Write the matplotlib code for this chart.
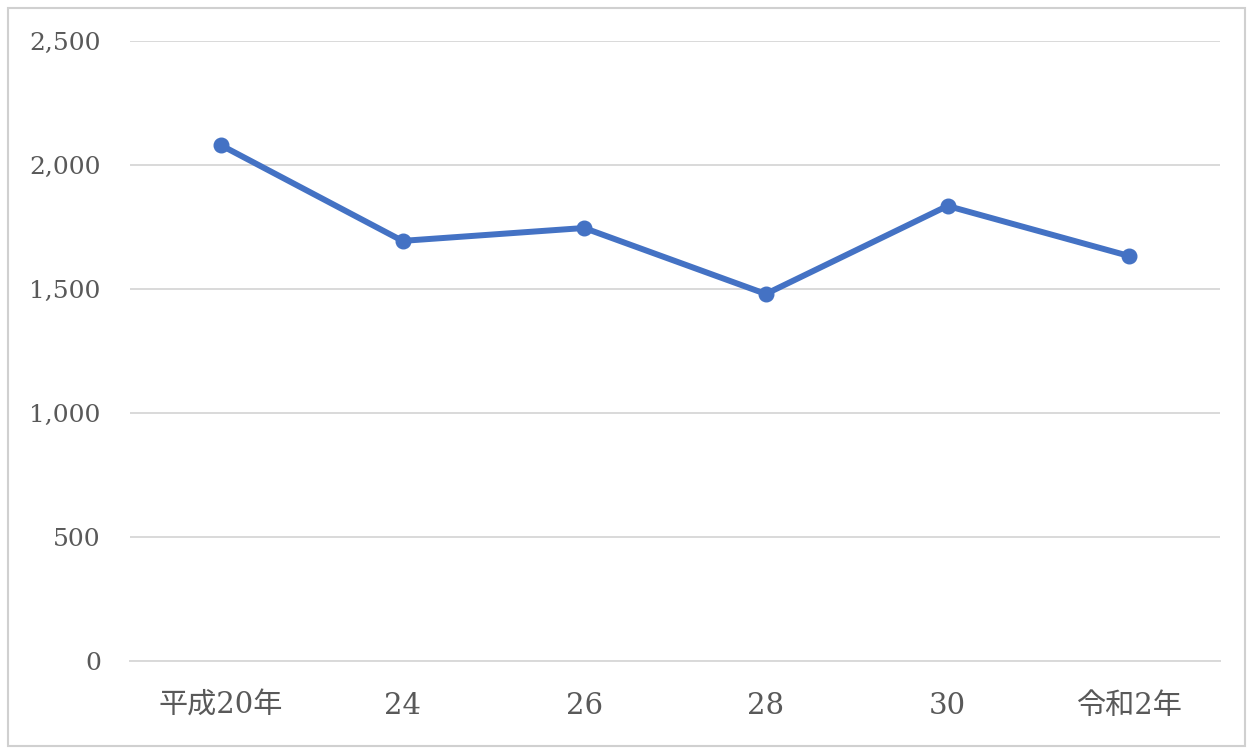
import matplotlib
matplotlib.use("Agg")
import matplotlib.pyplot as plt
from matplotlib.patches import Rectangle

# data
years = ["平成20年", "24", "26", "28", "30", "令和2年"]
counts = [2080, 1694, 1746, 1480, 1835, 1633]
yticks = [0, 500, 1000, 1500, 2000, 2500]

plt.rcParams['font.family'] = ['DejaVu Serif', 'Noto Sans CJK JP']

fig = plt.figure(figsize=(12.53, 7.51), dpi=100)
ax = fig.add_axes([130 / 1253, 1 - 661 / 751, (1220 - 130) / 1253, (661 - 41) / 751])

x = list(range(len(years)))
ax.plot(x, counts, color="#4472C4", linewidth=4.3, marker="o", markersize=10.5,
        solid_capstyle="round", zorder=3)

ax.set_xlim(-0.5, len(years) - 0.5)
ax.set_ylim(0, 2500)
ax.set_yticks(yticks)
ax.set_yticklabels(["{:,}".format(v) for v in yticks])
ax.set_xticks(x)
ax.set_xticklabels(years)
ax.grid(axis="y", color="#D9D9D9", linewidth=1.4)
ax.set_axisbelow(True)
for s in ["top", "right", "left"]:
    ax.spines[s].set_visible(False)
ax.spines["bottom"].set_color("#D9D9D9")
ax.spines["bottom"].set_linewidth(1.4)
ax.tick_params(axis="both", length=0, labelcolor="#595959")
ax.tick_params(axis="y", pad=21, labelsize=18)
ax.tick_params(axis="x", pad=22, labelsize=21)

# light frame round the whole chart
fig.patches.append(Rectangle((8 / 1253, 5 / 751), 1237 / 1253, 738 / 751,
                             transform=fig.transFigure, fill=False,
                             edgecolor="#D0D0D0", linewidth=1.5))

fig.savefig("out.png", dpi=100)
